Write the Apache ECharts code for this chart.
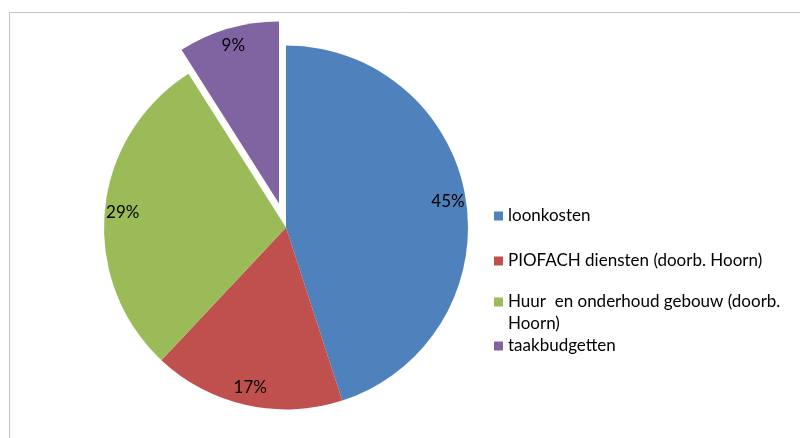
<!DOCTYPE html>
<html><head><meta charset="utf-8">
<script src="https://cdn.jsdelivr.net/npm/echarts@6/dist/echarts.min.js"></script>
<style>html,body{margin:0;padding:0;background:#fff}#c{width:800px;height:438px}</style>
</head><body><div id="c"></div>
<script>
const categories = ['loonkosten', 'PIOFACH diensten (doorb. Hoorn)', 'Huur  en onderhoud gebouw (doorb. Hoorn)', 'taakbudgetten'];
const values = [45, 17, 29, 9];
const exploded = [false, false, false, true];

const colors = ['#4F81BD', '#C0504D', '#9BBB59', '#8064A2'];
const FONT = 'Lato';
const legendCenters = [216, 261, 302, 346];
const wrapped = [false, false, true, false];

const chart = echarts.init(document.getElementById('c'), null, {renderer: 'canvas'});

const pieData = categories.map((n, i) => ({
  name: n, value: values[i], selected: exploded[i],
  itemStyle: {color: colors[i]}
}));
const labelData = categories.map((n, i) => ({
  name: n, value: values[i], selected: exploded[i],
  itemStyle: {color: 'rgba(0,0,0,0)'}
}));

const LH = 22;
const legends = categories.map((name, i) => {
  const w = wrapped[i];
  // wrapped: 3 rich lines (blank, line1, line2) centred on the icon -> line1 sits on the icon
  const boxH = w ? 3 * LH : LH;
  return {
    data: [name],
    orient: 'vertical',
    left: 494,
    top: legendCenters[i] - boxH / 2,
    padding: 0,
    itemGap: 0,
    itemWidth: 9,
    itemHeight: 9,
    icon: 'rect',
    selectedMode: false,
    formatter: w
      ? (n => { const m = n.match(/^(.*) (\S+)$/); return '{t|}\n{t|' + m[1] + '}\n{t|' + m[2] + '}'; })
      : (n => '{t|' + n + '}'),
    textStyle: {
      fontFamily: FONT, fontSize: 17, color: '#000',
      rich: {t: {fontFamily: FONT, fontSize: 17, color: '#000', lineHeight: LH, height: LH}}
    }
  };
});

chart.setOption({
  animation: false,
  backgroundColor: '#fff',
  color: colors,
  graphic: [{
    type: 'rect', silent: true,
    shape: {x: 9.5, y: 12.5, width: 820, height: 460},
    style: {fill: 'none', stroke: '#C4C4C4', lineWidth: 1}
  }],
  legend: legends,
  series: [
    {
      type: 'pie',
      center: [286, 227.5],
      radius: 182,
      startAngle: 90,
      clockwise: true,
      selectedMode: 'multiple',
      selectedOffset: 25,
      avoidLabelOverlap: false,
      label: {show: false},
      labelLine: {show: false},
      emphasis: {disabled: true},
      itemStyle: {borderWidth: 0},
      data: pieData
    },
    {
      type: 'pie',
      center: [286, 227.5],
      radius: [148, 174],
      startAngle: 90,
      clockwise: true,
      selectedMode: 'multiple',
      selectedOffset: 25,
      silent: true,
      z: 5,
      avoidLabelOverlap: false,
      emphasis: {disabled: true},
      itemStyle: {borderWidth: 0},
      label: {show: true, position: 'inside', formatter: '{c}%', fontFamily: FONT, fontSize: 17, color: '#000'},
      labelLine: {show: false},
      data: labelData
    }
  ]
});
</script>
</body></html>
